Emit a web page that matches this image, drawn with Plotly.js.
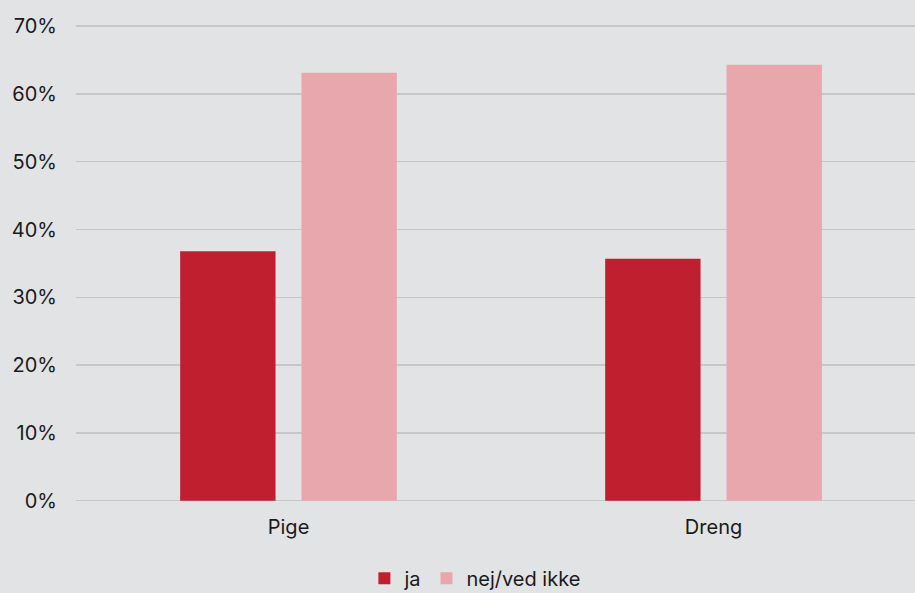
<!DOCTYPE html>
<html>
<head>
<meta charset="utf-8">
<script src="https://cdn.plot.ly/plotly-3.0.1.min.js"></script>
<style>html,body{margin:0;padding:0;background:#e2e3e5;}#chart{width:915px;height:593px;}</style>
</head>
<body>
<div id="chart"></div>
<script>
const categories = ["Pige", "Dreng"];
const seriesNames = ["ja", "nej/ved ikke"];
const jaValues = [36.8, 35.7];
const nejValues = [63.1, 64.3];
const yTickVals = [0, 10, 20, 30, 40, 50, 60, 70];
const yTickText = ["0%", "10%", "20%", "30%", "40%", "50%", "60%", "70%"];

const font = {family: "Inter, 'Noto Sans', sans-serif", size: 20, color: "#1a1a1a"};

const traces = [
  {type: "bar", name: seriesNames[0], x: categories, y: jaValues, marker: {color: "#c01f30"}, hoverinfo: "none"},
  {type: "bar", name: seriesNames[1], x: categories, y: nejValues, marker: {color: "#e8a7ac"}, hoverinfo: "none"}
];

const layout = {
  width: 915, height: 593,
  paper_bgcolor: "#e2e3e5", plot_bgcolor: "#e2e3e5",
  font: font,
  margin: {l: 76, r: 0, t: 24, b: 92},
  barmode: "group",
  bargap: 0.429,
  bargroupgap: 0.214,
  showlegend: true,
  legend: {orientation: "h", xref: "container", yref: "container", x: 0.519, xanchor: "center", y: 0.025, yanchor: "middle", font: font, itemwidth: 30, traceorder: "normal"},
  xaxis: {type: "category", range: [-0.5, 1.474], showgrid: false, zeroline: false, showline: false, ticks: "", ticklabelstandoff: 12, tickfont: font, fixedrange: true},
  yaxis: {range: [-0.03, 70.3], tickvals: yTickVals, ticktext: yTickText, showgrid: true, gridcolor: "#c6c7c9", gridwidth: 1.3, zeroline: true, zerolinecolor: "#c6c7c9", zerolinewidth: 1.3, showline: false, ticks: "", ticklabelstandoff: 18, tickfont: font, fixedrange: true}
};

Plotly.newPlot("chart", traces, layout, {displayModeBar: false, staticPlot: true});
</script>
</body>
</html>
